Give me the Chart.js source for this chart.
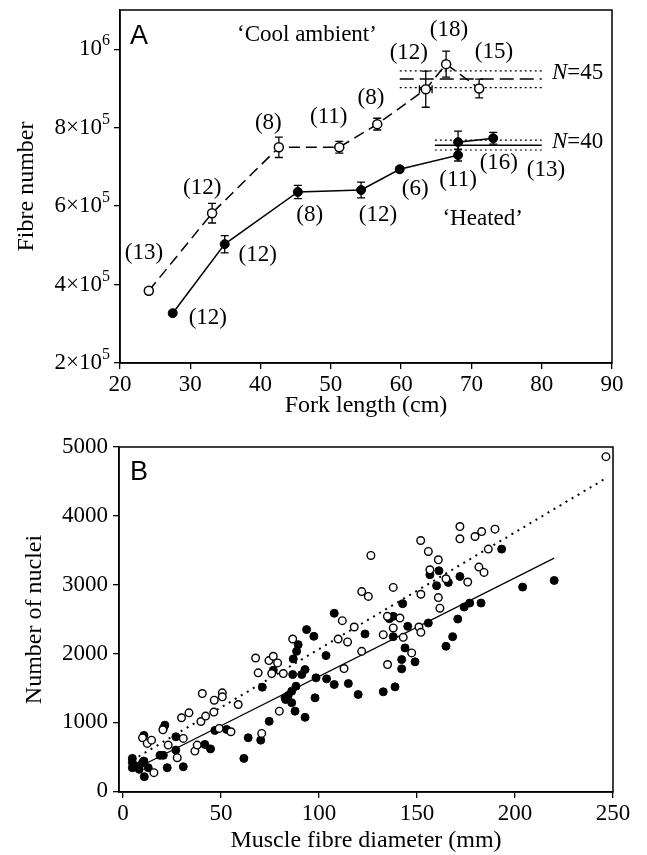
<!DOCTYPE html>
<html>
<head>
<meta charset="utf-8">
<script src="https://cdn.jsdelivr.net/npm/chart.js@4.4.1/dist/chart.umd.min.js"></script>
<style>
  body { margin: 0; background: #fff; }
  #wrap { position: relative; width: 647px; height: 855px; }
  canvas { position: absolute; left: 0; }
</style>
</head>
<body>
<div id="wrap">
  <canvas id="chartA" width="647" height="420" style="top:0"></canvas>
  <canvas id="chartB" width="647" height="435" style="top:420px"></canvas>
</div>
<script>
// === panel A : fibre number vs fork length ===
const forkCool = [24.1, 33.1, 42.6, 51.2, 56.6, 63.5, 66.4, 71.1];
const fibreCool = [384000, 582000, 750000, 750000, 809000, 898000, 962000, 900000];
const errCool = [8000, 25000, 26000, 15000, 15000, 46000, 33000, 24000];
const xErrCool = [0, 0, 0, 0, 0, 0.9, 0, 0];
const nCool = ['(13)', '(12)', '(8)', '(11)', '(8)', '(12)', '(18)', '(15)'];
const nCoolX = [23.4, 31.7, 41.1, 49.7, 55.7, 61.1, 66.8, 73.2];
const nCoolY = [480000, 646000, 811000, 827000, 875000, 990000, 1048000, 992000];

const forkHeated = [27.5, 34.9, 45.3, 54.3, 59.8, 68.1, 68.1, 73.1];
const fibreHeated = [327000, 503000, 636000, 641000, 694000, 730000, 763000, 773000];
const errHeated = [5000, 22000, 17000, 20000, 6000, 15000, 28000, 15000];
const nHeated = ['(12)', '(12)', '(8)', '(12)', '(6)', '(11)', '(16)', '(13)'];
const nHeatedX = [32.5, 39.6, 47.0, 56.7, 62.0, 68.1, 73.9, 80.6];
const nHeatedY = [315000, 475000, 577000, 577000, 643000, 666000, 710000, 692000];

// asymptote lines (N=45 cool, N=40 heated) with their dotted limits
const asymCoolX = [59.8, 80];
const asymCool = [924000, 945000, 902000];
const asymHeatedX = [64.8, 80];
const asymHeated = [755000, 768000, 743000];

const xTicksA = [20, 30, 40, 50, 60, 70, 80, 90];
const yTicksA = [200000, 400000, 600000, 800000, 1000000];
const yTickBaseA = ['2×10', '4×10', '6×10', '8×10', '10'];
const yTickExpA = ['5', '5', '5', '5', '6'];

// === panel B : nuclei vs muscle fibre diameter ===
const coolDiam = [10, 12.4, 14.6, 15.8, 20.4, 23.1, 27.7, 29.9, 30.8, 33.7, 36.7, 37.9, 39.8, 40.5, 42.2, 46.4,
  46.6, 49.1, 50.7, 50.7, 55.1, 58.8, 67.7, 69, 70.8, 74.5, 75.9, 76.7, 78.9, 79.8, 81.8, 86.6, 109.8, 111.9,
  112.8, 114.6, 118, 121.8, 121.8, 125.2, 126.5, 132.8, 134.9, 135, 137.9, 137.9, 141.3, 143, 147.3, 151, 152,
  152, 151.9, 155.8, 156.6, 160.9, 160.9, 161.7, 164.8, 171.9, 171.9, 175.9, 179.6, 181.6, 183, 184.2, 186.4,
  189.8, 246.4];
const coolNuclei = [778, 696, 743, 271, 893, 671, 488, 1068, 768, 1140, 584, 671, 1014, 1420, 1092, 1150,
  1323, 913, 1430, 1372, 865, 1261, 1936, 1720, 841, 1898, 1710, 1961, 1865, 1164, 1710, 2212, 2212, 2478,
  1783, 2169, 2386, 2033, 2900, 2830, 3425, 2275, 2541, 1841, 2961, 2372, 2517, 2236, 2010, 2386, 2309,
  2862, 3642, 3483, 3217, 3362, 2813, 2659, 3087, 3845, 3667, 3039, 3700, 3256, 3772, 3179, 3517,
  3807, 4860];
const heatedDiam = [4.8, 4.8, 4.8, 8.2, 8.3, 10, 10.7, 10.9, 10.7, 12.9, 18.9, 20.6, 21.4, 20.6, 22.6, 27, 27,
  30.8, 41.8, 44.7, 46.9, 52.9, 61.7, 63.9, 70.3, 71.1, 74.6, 76.7, 82.7, 83, 84.3, 86.1, 86.1, 86.6, 86.9,
  87.8, 88.3, 88.6, 89.4, 91.2, 92.9, 92.9, 93.7, 97.4, 98, 98.5, 103.6, 103.9, 107.8, 107.8, 115, 120, 123.5,
  132.8, 135.9, 137.9, 137.9, 138.8, 142.2, 142.2, 142.7, 143.9, 145.3, 149, 155.8, 156.6, 160, 161.2, 164.8,
  166, 168.2, 170.8, 171.9, 174.1, 176.9, 182.7, 193.2, 203.9, 220];
const heatedNuclei = [478, 343, 420, 367, 319, 416, 812, 213, 439, 343, 522, 522, 961, 913, 343, 792, 599,
  357, 681, 616, 884, 899, 478, 778, 743, 1512, 1016, 1758, 1358, 1333, 1391, 1454, 1286, 1696, 1923,
  1164, 1526, 2033, 2130, 1696, 1768, 1074, 2348, 2251, 1358, 1648, 1971, 1633, 2586, 1551, 1565, 1406, 2285,
  1445, 2507, 2541, 2246, 1517, 1913, 1778, 2725, 2082, 2396, 1880, 2444, 3145, 2986, 3203, 2106,
  3033, 2246, 2502, 3120, 2676, 2734, 2734, 3517, 2966, 3062];

// regression line end points
const fitCoolX = [8, 246];
const fitCoolY = [505, 4540];
const fitHeatedX = [12, 220];
const fitHeatedY = [408, 3386];

const xTicksB = [0, 50, 100, 150, 200, 250];
const yTicksB = [0, 1000, 2000, 3000, 4000, 5000];

const SERIF = '"Liberation Serif", "Times New Roman", serif';
const SANS = '"Liberation Sans", Arial, sans-serif';

function pts(xs, ys) {
    return xs.map((x, i) => ({ x: x, y: ys[i] }));
}

function axis(extra) {
    return Object.assign({
        type: 'linear',
        grid: { drawOnChartArea: false, drawTicks: true, tickLength: 6, color: '#000', lineWidth: 1.3 },
        border: { display: true, color: '#000', width: 1.5 },
        ticks: { color: '#000', font: { family: SERIF, size: 23 }, maxRotation: 0, padding: 2,
            callback: v => String(v) }
    }, extra);
}

function refLine(xs, y, dash, width) {
    return {
        type: 'line',
        data: [{ x: xs[0], y: y }, { x: xs[1], y: y }],
        borderColor: '#000', borderWidth: width, borderDash: dash,
        pointRadius: 0, fill: false
    };
}

// --- plugin: frame, error bars, annotations for panel A ---
const panelA = {
    id: 'panelA',
    beforeDatasetsDraw(chart) {
        const c = chart.ctx, xs = chart.scales.x, ys = chart.scales.y;
        c.save();
        c.strokeStyle = '#000';
        c.lineWidth = 1.3;
        const bars = (fx, fy, err, xerr) => {
            fx.forEach((x, i) => {
                const px = xs.getPixelForValue(x);
                const top = ys.getPixelForValue(fy[i] + err[i]);
                const bot = ys.getPixelForValue(fy[i] - err[i]);
                c.beginPath();
                c.moveTo(px, top); c.lineTo(px, bot);
                c.moveTo(px - 4, top); c.lineTo(px + 4, top);
                c.moveTo(px - 4, bot); c.lineTo(px + 4, bot);
                if (xerr && xerr[i]) {
                    const py = ys.getPixelForValue(fy[i]);
                    const l = xs.getPixelForValue(x - xerr[i]), r = xs.getPixelForValue(x + xerr[i]);
                    c.moveTo(l, py); c.lineTo(r, py);
                    c.moveTo(l, py - 4); c.lineTo(l, py + 4);
                    c.moveTo(r, py - 4); c.lineTo(r, py + 4);
                }
                c.stroke();
            });
        };
        bars(forkCool, fibreCool, errCool, xErrCool);
        bars(forkHeated, fibreHeated, errHeated, null);
        c.restore();
    },
    afterDraw(chart) {
        const c = chart.ctx, a = chart.chartArea, xs = chart.scales.x, ys = chart.scales.y;
        c.save();
        c.strokeStyle = '#000';
        c.lineWidth = 1.5;
        c.strokeRect(a.left, a.top, a.right - a.left, a.bottom - a.top);

        c.fillStyle = '#000';
        // y tick labels with superscript exponents
        c.textBaseline = 'middle';
        c.textAlign = 'right';
        yTicksA.forEach((v, i) => {
            const py = ys.getPixelForValue(v);
            const rx = a.left - 10;
            c.font = '16px ' + SERIF;
            const ew = c.measureText(yTickExpA[i]).width;
            c.fillText(yTickExpA[i], rx, py - 8);
            c.font = '23px ' + SERIF;
            c.fillText(yTickBaseA[i], rx - ew, py);
        });

        c.textAlign = 'center';
        c.font = '23px ' + SERIF;
        nCool.forEach((t, i) => c.fillText(t, xs.getPixelForValue(nCoolX[i]), ys.getPixelForValue(nCoolY[i])));
        nHeated.forEach((t, i) => c.fillText(t, xs.getPixelForValue(nHeatedX[i]), ys.getPixelForValue(nHeatedY[i])));
        c.fillText('\u2018Cool ambient\u2019', xs.getPixelForValue(46.6), ys.getPixelForValue(1036000));
        c.fillText('\u2018Heated\u2019', xs.getPixelForValue(71.6), ys.getPixelForValue(567000));

        // N labels, italic N
        c.textAlign = 'left';
        [[939000, '=45'], [763000, '=40']].forEach(([y, rest]) => {
            const px = xs.getPixelForValue(81.45), py = ys.getPixelForValue(y);
            c.font = 'italic 23px ' + SERIF;
            c.fillText('N', px, py);
            const w = c.measureText('N').width;
            c.font = '23px ' + SERIF;
            c.fillText(rest, px + w, py);
        });

        c.textBaseline = 'alphabetic';
        c.font = '27px ' + SANS;
        c.fillText('A', a.left + 10, a.top + 34);
        c.restore();
    }
};

// --- plugin: frame and panel letter for B ---
const panelB = {
    id: 'panelB',
    afterDraw(chart) {
        const c = chart.ctx, a = chart.chartArea;
        c.save();
        c.strokeStyle = '#000';
        c.lineWidth = 1.5;
        c.strokeRect(a.left, a.top, a.right - a.left, a.bottom - a.top);
        c.fillStyle = '#000';
        c.font = '27px ' + SANS;
        c.textAlign = 'left';
        c.fillText('B', a.left + 11, a.top + 33);
        c.restore();
    }
};

new Chart(document.getElementById('chartA'), {
    type: 'line',
    data: {
        datasets: [
            {
                label: 'Cool ambient',
                data: pts(forkCool, fibreCool),
                borderColor: '#000', borderWidth: 1.5, borderDash: [11, 6],
                pointStyle: 'circle', pointRadius: 4.5,
                pointBackgroundColor: '#fff', pointBorderColor: '#000', pointBorderWidth: 1.5
            },
            {
                label: 'Heated',
                data: pts(forkHeated, fibreHeated),
                borderColor: '#000', borderWidth: 1.5,
                pointStyle: 'circle', pointRadius: 4.5,
                pointBackgroundColor: '#000', pointBorderColor: '#000', pointBorderWidth: 1
            },
            refLine(asymCoolX, asymCool[0], [14, 6], 1.5),
            refLine(asymCoolX, asymCool[1], [2, 3], 1.2),
            refLine(asymCoolX, asymCool[2], [2, 3], 1.2),
            refLine(asymHeatedX, asymHeated[0], [], 1.5),
            refLine(asymHeatedX, asymHeated[1], [2, 3], 1.2),
            refLine(asymHeatedX, asymHeated[2], [2, 3], 1.2)
        ]
    },
    options: {
        responsive: false,
        animation: false,
        events: [],
        layout: { padding: { top: 10, right: 35, left: 0, bottom: 0 } },
        plugins: { legend: { display: false }, tooltip: { enabled: false } },
        scales: {
            x: axis({
                min: 20, max: 90,
                afterBuildTicks: s => { s.ticks = xTicksA.map(v => ({ value: v })); },
                afterFit: s => { s.height = 57; },
                title: { display: true, text: 'Fork length (cm)', color: '#000',
                    font: { family: SERIF, size: 24 }, padding: { top: 0, bottom: 0 } }
            }),
            y: axis({
                min: 200000, max: 1100000,
                afterBuildTicks: s => { s.ticks = yTicksA.map(v => ({ value: v })); },
                afterFit: s => { s.width = 120; },
                ticks: { display: false },
                title: { display: true, text: 'Fibre number', color: '#000',
                    font: { family: SERIF, size: 24 }, padding: { top: 12, bottom: 0 } }
            })
        }
    },
    plugins: [panelA]
});

new Chart(document.getElementById('chartB'), {
    type: 'scatter',
    data: {
        datasets: [
            {
                label: 'Cool ambient',
                data: pts(coolDiam, coolNuclei),
                pointStyle: 'circle', pointRadius: 3.8,
                pointBackgroundColor: '#fff', pointBorderColor: '#000', pointBorderWidth: 1.4
            },
            {
                label: 'Heated',
                data: pts(heatedDiam, heatedNuclei),
                pointStyle: 'circle', pointRadius: 4,
                pointBackgroundColor: '#000', pointBorderColor: '#000', pointBorderWidth: 1
            },
            {
                type: 'line', label: 'fit cool',
                data: pts(fitCoolX, fitCoolY),
                borderColor: '#000', borderWidth: 2, borderDash: [2, 5], pointRadius: 0
            },
            {
                type: 'line', label: 'fit heated',
                data: pts(fitHeatedX, fitHeatedY),
                borderColor: '#000', borderWidth: 1.3, pointRadius: 0
            }
        ]
    },
    options: {
        responsive: false,
        animation: false,
        events: [],
        layout: { padding: { top: 27, right: 34, left: 0, bottom: 0 } },
        plugins: { legend: { display: false }, tooltip: { enabled: false } },
        scales: {
            x: axis({
                min: -2, max: 250,
                afterBuildTicks: s => { s.ticks = xTicksB.map(v => ({ value: v })); },
                afterFit: s => { s.height = 63; },
                title: { display: true, text: 'Muscle fibre diameter (mm)', color: '#000',
                    font: { family: SERIF, size: 24 }, padding: { top: 0, bottom: 0 } }
            }),
            y: axis({
                min: -10, max: 5000,
                afterBuildTicks: s => { s.ticks = yTicksB.map(v => ({ value: v })); },
                afterFit: s => { s.width = 119; },
                ticks: { color: '#000', font: { family: SERIF, size: 23 }, padding: 5,
                    callback: v => String(v) },
                title: { display: true, text: 'Number of nuclei', color: '#000',
                    font: { family: SERIF, size: 24 }, padding: { top: 20, bottom: 0 } }
            })
        }
    },
    plugins: [panelB]
});
</script>
</body>
</html>
